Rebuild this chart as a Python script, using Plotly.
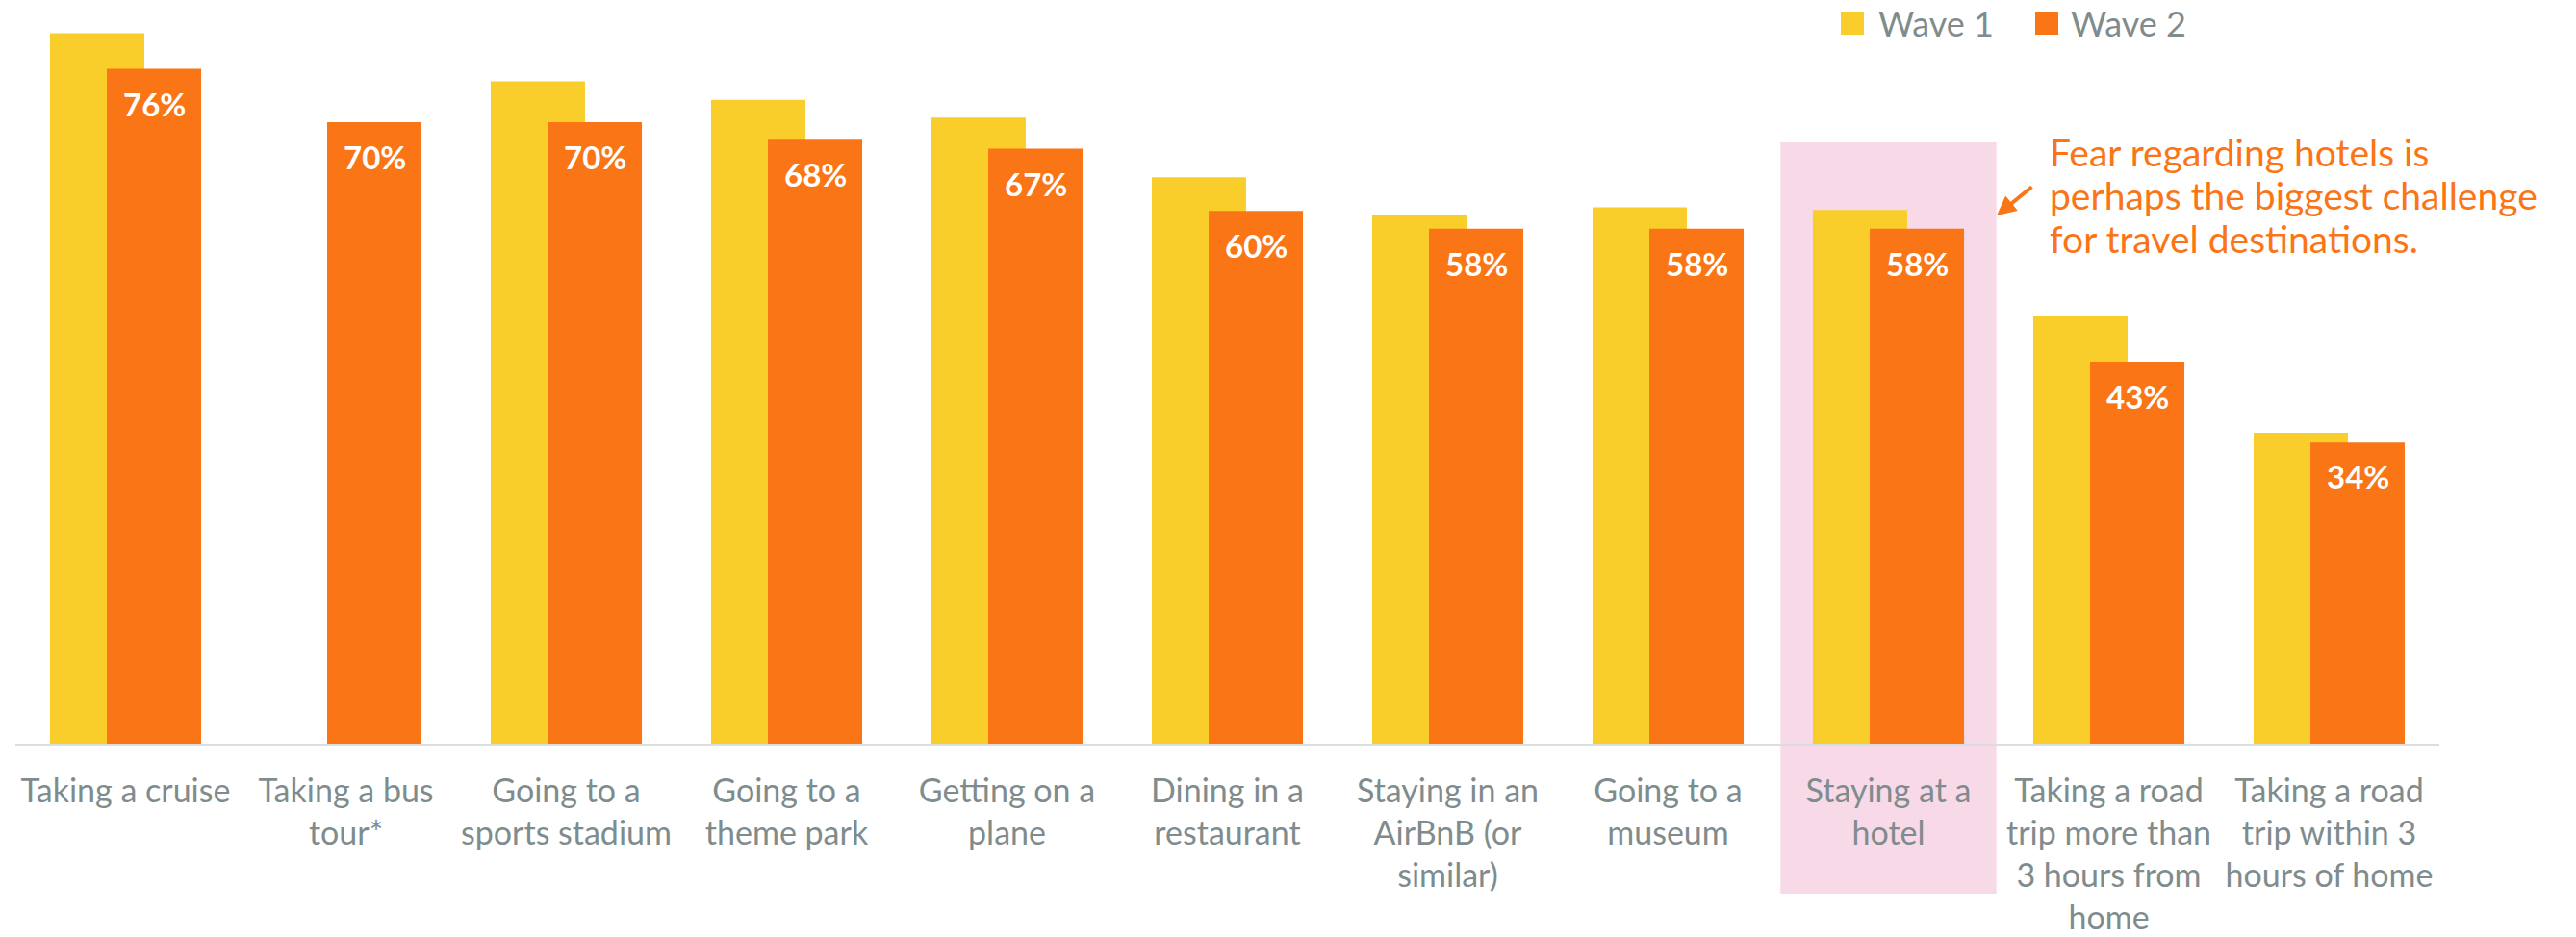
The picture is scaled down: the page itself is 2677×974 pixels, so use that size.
import plotly.graph_objects as go

# Survey results: share of respondents uncomfortable with each activity
categories = [
    "Taking a cruise",
    "Taking a bus<br>tour*",
    "Going to a<br>sports stadium",
    "Going to a<br>theme park",
    "Getting on a<br>plane",
    "Dining in a<br>restaurant",
    "Staying in an<br>AirBnB (or<br>similar)",
    "Going to a<br>museum",
    "Staying at a<br>hotel",
    "Taking a road<br>trip more than<br>3 hours from<br>home",
    "Taking a road<br>trip within 3<br>hours of home",
]
wave1 = [80, None, 74.6, 72.5, 70.5, 63.8, 59.5, 60.4, 60.1, 48.2, 35]
wave2 = [76, 70, 70, 68, 67, 60, 58, 58, 58, 43, 34]

YELLOW = "rgb(249,206,43)"
ORANGE = "rgb(250,117,21)"
PINK = "rgb(247,217,232)"
GREY = "rgb(127,140,141)"
FONT = "Lato, 'Open Sans', sans-serif"

W, H = 2677, 974
ML, MR, MT, MB = 16, 142, 0, 201
PLOT_W = W - ML - MR
PLOT_H = H - MT - MB

BAR_W = 0.428
OFF1 = -0.343
OFF2 = -0.085

x = list(range(len(categories)))

fig = go.Figure()
fig.add_trace(go.Bar(
    x=x, y=wave1, name="Wave 1", marker_color=YELLOW,
    width=BAR_W, offset=OFF1, marker_line_width=0,
))
fig.add_trace(go.Bar(
    x=x, y=wave2, name="Wave 2", marker_color=ORANGE,
    width=BAR_W, offset=OFF2, marker_line_width=0,
))


def px_x(p):
    return (p - ML) / PLOT_W


def px_y(p):
    return (H - MB - p) / PLOT_H


shapes = []
annotations = []

# highlight behind the hotel category
hotel = categories.index("Staying at a<br>hotel")
shapes.append(dict(
    type="rect", xref="x", yref="paper",
    x0=hotel - 0.49, x1=hotel + 0.49, y0=px_y(929), y1=px_y(148),
    fillcolor=PINK, line_width=0, layer="below",
))

# value labels inside the Wave 2 bars
label_center = OFF2 + BAR_W / 2
for i, v in enumerate(wave2):
    annotations.append(dict(
        x=i + label_center, y=v, xref="x", yref="y",
        text=f"{v:.0f}%", showarrow=False,
        yanchor="top", xanchor="center", yshift=-14,
        font=dict(family=FONT, size=33, color="white", weight="bold"),
    ))

# legend
for sx, tx, col, name in [(1913, 1950, YELLOW, "Wave 1"), (2115, 2150, ORANGE, "Wave 2")]:
    shapes.append(dict(
        type="rect", xref="paper", yref="paper",
        x0=px_x(sx), x1=px_x(sx + 24), y0=px_y(36), y1=px_y(12),
        fillcolor=col, line_width=0,
    ))
    annotations.append(dict(
        x=px_x(tx), y=px_y(24), xref="paper", yref="paper",
        text=name, showarrow=False, xanchor="left", yanchor="middle",
        font=dict(family=FONT, size=36, color=GREY),
    ))

# callout text and arrow
callout = [
    "Fear regarding hotels is",
    "perhaps the biggest challenge",
    "for travel destinations.",
]
for k, line in enumerate(callout):
    annotations.append(dict(
        x=px_x(2128), y=px_y(158 + 45 * k), xref="paper", yref="paper",
        text=line, showarrow=False, xanchor="left", yanchor="middle",
        font=dict(family=FONT, size=39, color=ORANGE),
    ))
annotations.append(dict(
    x=px_x(2075), y=px_y(224), xref="paper", yref="paper",
    ax=38, ay=-31, axref="pixel", ayref="pixel",
    text="", showarrow=True, arrowhead=2, arrowsize=1,
    arrowwidth=4, arrowcolor=ORANGE,
))

fig.update_layout(
    width=W, height=H,
    margin=dict(l=ML, r=MR, t=MT, b=MB, pad=0),
    paper_bgcolor="white", plot_bgcolor="rgba(0,0,0,0)",
    barmode="overlay", showlegend=False,
    shapes=shapes, annotations=annotations,
    font=dict(family=FONT, color=GREY),
)
fig.update_xaxes(
    range=[-0.5, len(categories) - 0.5],
    tickmode="array", tickvals=x, ticktext=categories,
    tickfont=dict(family=FONT, size=34, color=GREY),
    showline=True, linecolor="rgb(217,222,223)", linewidth=2,
    showgrid=False, zeroline=False,
    ticks="outside", ticklen=18, tickcolor="rgba(0,0,0,0)",
    tickangle=0,
)
fig.update_yaxes(
    range=[0, PLOT_H / 9.23], visible=False, showgrid=False, zeroline=False,
)

fig.write_html("out.html")
